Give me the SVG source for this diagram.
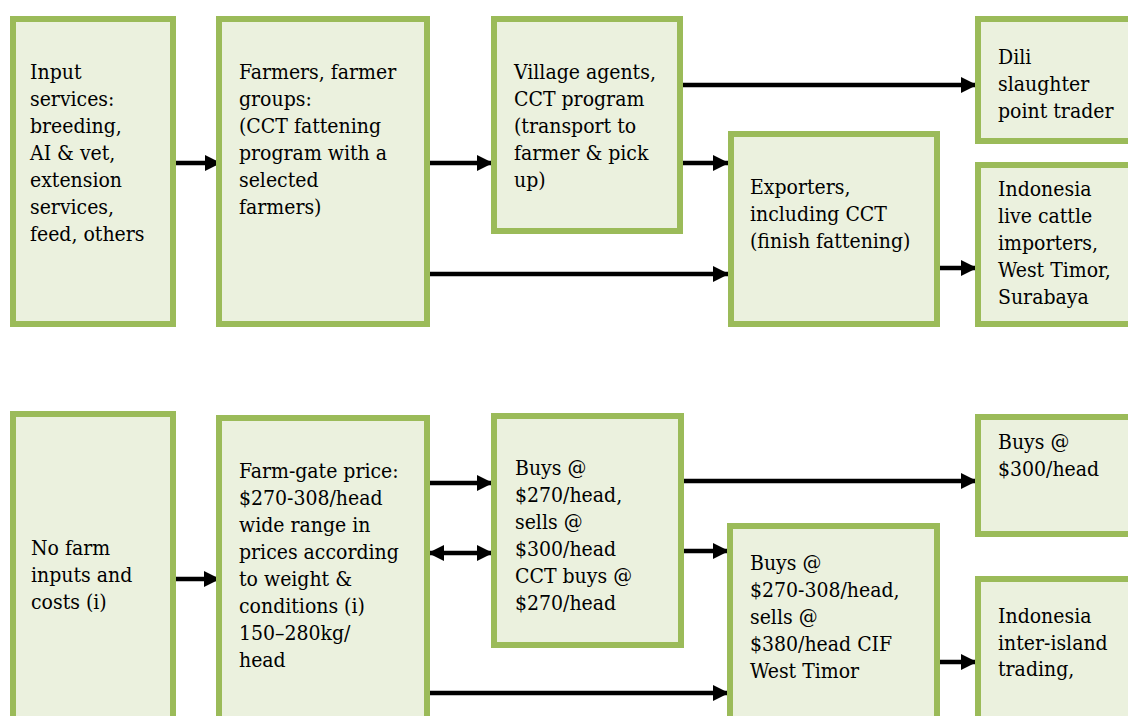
<svg xmlns="http://www.w3.org/2000/svg" width="1128" height="716" viewBox="0 0 1128 716">
<style>
.box{fill:#EBF1DE;stroke:#9BBB59;stroke-width:6}
.t{font-family:"DejaVu Serif Condensed","DejaVu Serif","Liberation Serif",serif;font-stretch:condensed;font-size:21px;fill:#000}
.c{stroke:#000;stroke-width:4.5;fill:none}
</style>
<defs>
<marker id="ah" viewBox="0 0 16 16" refX="16" refY="8" markerWidth="16" markerHeight="16" markerUnits="userSpaceOnUse" orient="auto">
<path d="M0,0 L16,8 L0,16 z" fill="#000"/>
</marker>
<marker id="as" viewBox="0 0 16 16" refX="0" refY="8" markerWidth="16" markerHeight="16" markerUnits="userSpaceOnUse" orient="auto">
<path d="M16,0 L0,8 L16,16 z" fill="#000"/>
</marker>
</defs>
<rect width="1128" height="716" fill="#fff"/>

<g id="connectors">
<line class="c" x1="174" y1="163" x2="221" y2="163" marker-end="url(#ah)"/>
<line class="c" x1="430" y1="163" x2="493" y2="163" marker-end="url(#ah)"/>
<line class="c" x1="430" y1="274" x2="729" y2="274" marker-end="url(#ah)"/>
<line class="c" x1="683" y1="85" x2="977" y2="85" marker-end="url(#ah)"/>
<line class="c" x1="683" y1="163" x2="729" y2="163" marker-end="url(#ah)"/>
<line class="c" x1="940" y1="268" x2="977" y2="268" marker-end="url(#ah)"/>
<line class="c" x1="176" y1="579" x2="220" y2="579" marker-end="url(#ah)"/>
<line class="c" x1="430" y1="483" x2="493" y2="483" marker-end="url(#ah)"/>
<line class="c" x1="428" y1="553" x2="493" y2="553" marker-start="url(#as)" marker-end="url(#ah)"/>
<line class="c" x1="430" y1="693" x2="729" y2="693" marker-end="url(#ah)"/>
<line class="c" x1="683" y1="481" x2="977" y2="481" marker-end="url(#ah)"/>
<line class="c" x1="683" y1="551" x2="729" y2="551" marker-end="url(#ah)"/>
<line class="c" x1="940" y1="662" x2="977" y2="662" marker-end="url(#ah)"/>
</g>

<g id="input-services">
<rect class="box" x="13" y="19" width="160" height="305"/>
<text class="t"><tspan x="30" y="79">Input</tspan><tspan x="30" y="106">services:</tspan><tspan x="30" y="133">breeding,</tspan><tspan x="30" y="160">AI &amp; vet,</tspan><tspan x="30" y="187">extension</tspan><tspan x="30" y="214">services,</tspan><tspan x="30" y="241">feed, others</tspan></text>
</g>

<g id="farmers">
<rect class="box" x="219" y="19" width="208" height="305"/>
<text class="t"><tspan x="239" y="79">Farmers, farmer</tspan><tspan x="239" y="106">groups:</tspan><tspan x="239" y="133">(CCT fattening</tspan><tspan x="239" y="160">program with a</tspan><tspan x="239" y="187">selected</tspan><tspan x="239" y="214">farmers)</tspan></text>
</g>

<g id="village-agents">
<rect class="box" x="494" y="19" width="186" height="212"/>
<text class="t"><tspan x="514" y="79">Village agents,</tspan><tspan x="514" y="106">CCT program</tspan><tspan x="514" y="133">(transport to</tspan><tspan x="514" y="160">farmer &amp; pick</tspan><tspan x="514" y="187">up)</tspan></text>
</g>

<g id="exporters">
<rect class="box" x="731" y="134" width="206" height="190"/>
<text class="t"><tspan x="750" y="194">Exporters,</tspan><tspan x="750" y="221">including CCT</tspan><tspan x="750" y="248">(finish fattening)</tspan></text>
</g>

<g id="dili">
<rect class="box" x="978" y="19" width="200" height="122"/>
<text class="t"><tspan x="998" y="64">Dili</tspan><tspan x="998" y="91">slaughter</tspan><tspan x="998" y="118">point trader</tspan></text>
</g>

<g id="indonesia-importers">
<rect class="box" x="978" y="165" width="200" height="159"/>
<text class="t"><tspan x="998" y="196">Indonesia</tspan><tspan x="998" y="223">live cattle</tspan><tspan x="998" y="250">importers,</tspan><tspan x="998" y="277">West Timor,</tspan><tspan x="998" y="304">Surabaya</tspan></text>
</g>

<g id="no-farm-inputs">
<rect class="box" x="13" y="414" width="160" height="400"/>
<text class="t"><tspan x="31" y="555">No farm</tspan><tspan x="31" y="582">inputs and</tspan><tspan x="31" y="609">costs (i)</tspan></text>
</g>

<g id="farm-gate-price">
<rect class="box" x="219" y="418" width="208" height="400"/>
<text class="t"><tspan x="239" y="478">Farm-gate price:</tspan><tspan x="239" y="505">$270-308/head</tspan><tspan x="239" y="532">wide range in</tspan><tspan x="239" y="559">prices according</tspan><tspan x="239" y="586">to weight &amp;</tspan><tspan x="239" y="613">conditions (i)</tspan><tspan x="239" y="640">150–280kg/</tspan><tspan x="239" y="667">head</tspan></text>
</g>

<g id="agent-prices">
<rect class="box" x="494" y="416" width="187" height="229"/>
<text class="t"><tspan x="515" y="475">Buys @</tspan><tspan x="515" y="502">$270/head,</tspan><tspan x="515" y="529">sells @</tspan><tspan x="515" y="556">$300/head</tspan><tspan x="515" y="583">CCT buys @</tspan><tspan x="515" y="610">$270/head</tspan></text>
</g>

<g id="dili-price">
<rect class="box" x="978" y="417" width="200" height="117"/>
<text class="t"><tspan x="998" y="449">Buys @</tspan><tspan x="998" y="476">$300/head</tspan></text>
</g>

<g id="exporter-prices">
<rect class="box" x="730" y="526" width="207" height="300"/>
<text class="t"><tspan x="750" y="570">Buys @</tspan><tspan x="750" y="597">$270-308/head,</tspan><tspan x="750" y="624">sells @</tspan><tspan x="750" y="651">$380/head CIF</tspan><tspan x="750" y="678">West Timor</tspan></text>
</g>

<g id="inter-island">
<rect class="box" x="978" y="579" width="200" height="300"/>
<text class="t"><tspan x="998" y="623">Indonesia</tspan><tspan x="998" y="650">inter-island</tspan><tspan x="998" y="676">trading,</tspan></text>
</g>
</svg>
